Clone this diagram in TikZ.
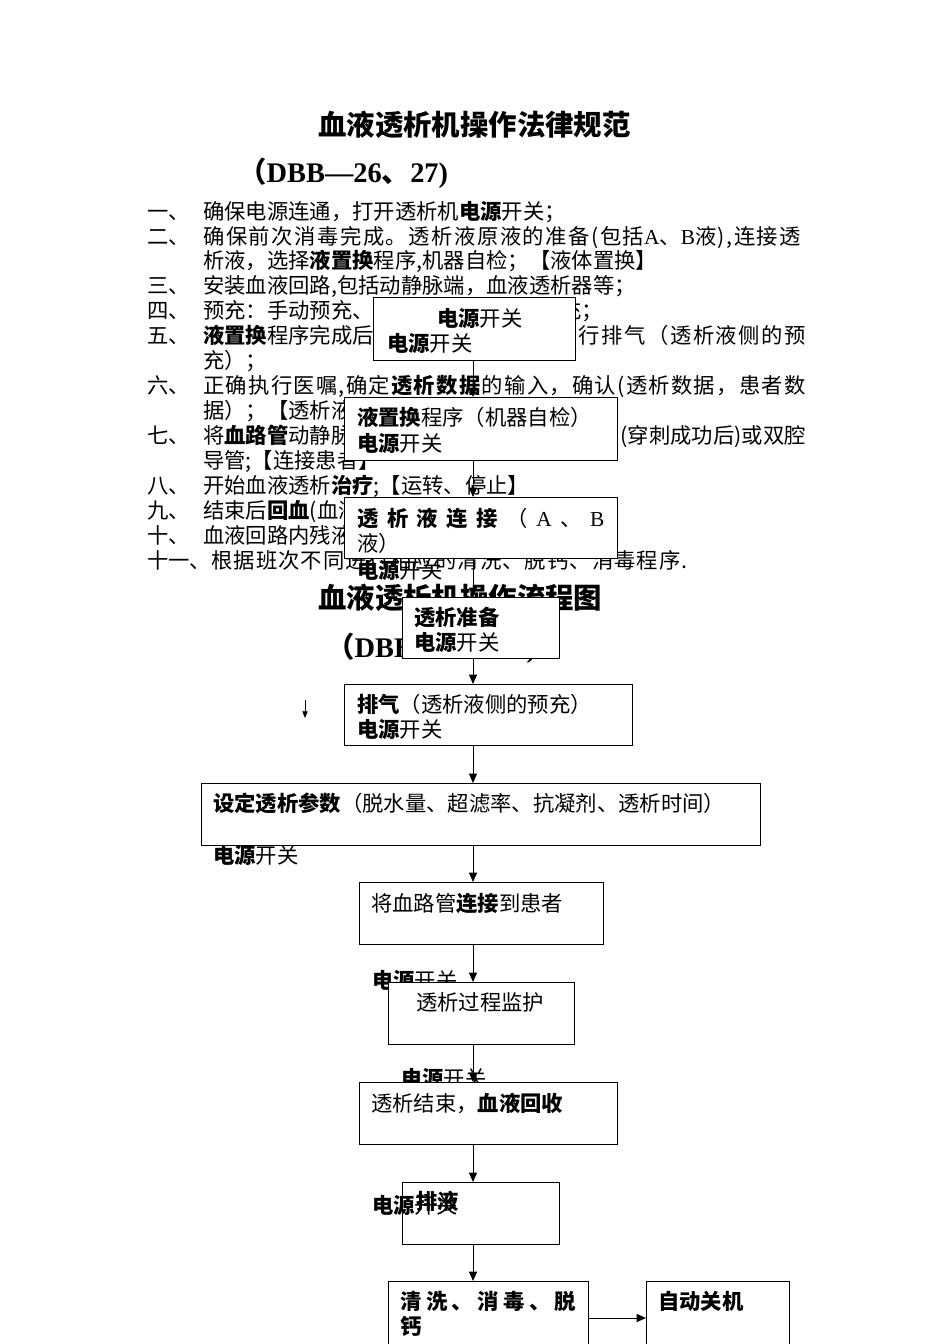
\documentclass[tikz,border=0pt]{standalone}
\usepackage{fontspec}
\setmainfont{Noto Sans CJK SC}
\newfontfamily\lat{Liberation Serif}
\usetikzlibrary{arrows.meta}

\newlength\pxu
\setlength\pxu{0.75pt}
\newcommand\num[1]{\makebox[56\pxu][l]{#1}}
\newcommand\dykg{\textbf{电源}开关}
% justified line by letter spacing
\newcommand\jline[2]{{\addfontfeature{LetterSpace=#1}#2}}

\tikzset{
  box/.style={draw, fill=white, line width=1pt, anchor=north west, inner sep=0pt},
  txt/.style={anchor=base west, inner sep=0pt, font=\fontsize{16}{19}\selectfont},
  txr/.style={txt, anchor=base east},
  ttl/.style={anchor=base west, inner sep=0pt, font=\fontsize{21.3}{25}\selectfont\bfseries},
  arr/.style={-{Triangle[length=7pt,width=6pt]}, line width=0.75pt},
}

\begin{document}
\begin{tikzpicture}[x=0.75pt,y=-0.75pt]
\useasboundingbox[fill=white] (0,0) rectangle (950,1344);

% titles
\node[ttl] (h1) at (318,136) {血液透析机操作法律规范};
\node[ttl] (h1b) at (238,183) {（{\lat DBB—26}、{\lat 27)}};
\node[ttl] (h2) at (318,608) {血液透析机操作流程图};
\node[ttl] (h2b) at (326,657) {（{\lat DBB—26}、{\lat 27)}};

% list
\node[txt] (l1) at (147,220) {\num{一、}确保电源连通，打开透析机\textbf{电源}开关；};
\node[txt] (l2) at (147,245) {\num{二、}\jline{7}{确保前次消毒完成。透析液原液的准备(包括{\lat A}、{\lat B}液),连接透}};
\node[txt] (l2b) at (203,269) {析液，选择\textbf{液置换}程序,机器自检；【液体置换】};
\node[txt] (l3) at (147,294) {\num{三、}安装血液回路,包括动静脉端，血液透析器等；};
\node[txt] (l4) at (147,319) {\num{四、}预充：手动预充、};
\node[txr] (l4r) at (603,319) {充；};
\node[txt] (l5) at (147,344) {\num{五、}\textbf{液置换}程序完成后};
\node[txr] (l5r) at (806,344) {\jline{7}{行排气（透析液侧的预}};
\node[txt] (l5b) at (203,368) {充）；};
\node[txt] (l6) at (147,393) {\num{六、}\jline{6}{正确执行医嘱,确定\textbf{透析数据}的输入，确认(透析数据，患者数}};
\node[txt] (l6b) at (203,418) {据）；【透析液};
\node[txt] (l7) at (147,443) {\num{七、}将\textbf{血路管}动静脉};
\node[txr] (l7r) at (806,443) {(穿刺成功后)或双腔};
\node[txt] (l7b) at (203,468) {导管;【连接患者】};
\node[txt] (l8) at (147,493) {\num{八、}开始血液透析\textbf{治疗};【运转、停止】};
\node[txt] (l9) at (147,518) {\num{九、}结束后\textbf{回血}(血液};
\node[txt] (l10) at (147,543) {\num{十、}血液回路内残液};
\node[txt] (l11) at (147,568) {十一、\jline{5}{根据班次不同进行相应的清洗、脱钙、消毒程序.}};

% texts hidden under boxes
\node[txt] (k8) at (372,988) {\dykg};
\node[txt] (k9) at (401,1086) {\dykg};

% boxes
\node[box, minimum width=202\pxu, minimum height=63\pxu] (b1) at (373,297) {};
\node[box, minimum width=273\pxu, minimum height=63\pxu] (b2) at (344,397) {};
\node[box, minimum width=273\pxu, minimum height=61\pxu] (b3) at (344,497) {};
\node[box, minimum width=157\pxu, minimum height=61\pxu] (b4) at (402,597) {};
\node[box, minimum width=288\pxu, minimum height=61\pxu] (b5) at (344,684) {};
\node[box, minimum width=559\pxu, minimum height=62\pxu] (b6) at (201,783) {};
\node[box, minimum width=244\pxu, minimum height=62\pxu] (b7) at (359,882) {};
\node[box, minimum width=186\pxu, minimum height=62\pxu] (b8) at (388,982) {};
\node[box, minimum width=258\pxu, minimum height=62\pxu] (b9) at (359,1082) {};
\node[box, minimum width=157\pxu, minimum height=62\pxu] (b10) at (402,1182) {};
\node[box, minimum width=200\pxu, minimum height=70\pxu] (b11) at (388,1281) {};
\node[box, minimum width=143\pxu, minimum height=70\pxu] (b12) at (646,1281) {};

% box texts
\node[txt] (t1) at (437,326) {\dykg};
\node[txt] (t1b) at (387,351) {\dykg};
\node[txt] (t2) at (357,425) {\textbf{液置换}程序（机器自检）};
\node[txt] (t2b) at (357,451) {\dykg};
\node[txt] (t3) at (357,526) {\hbox to 247\pxu{\textbf{透}\hfil\textbf{析}\hfil\textbf{液}\hfil\textbf{连}\hfil\textbf{接}\hfil（\hfil{\lat A}\hfil、\hfil{\lat B}}};
\node[txt] (t3b) at (357,551) {液）};
\node[txt] (t3c) at (357,578) {\dykg};
\node[txt] (t4) at (414,625) {\textbf{透析准备}};
\node[txt] (t4b) at (414,650) {\dykg};
\node[txt] (t5) at (357,712) {\textbf{排气}（透析液侧的预充）};
\node[txt] (t5b) at (357,737) {\dykg};
\node[txt] (t6) at (213,811) {\textbf{设定透析参数}（脱水量、超滤率、抗凝剂、透析时间）};
\node[txt] (t6b) at (213,863) {\dykg};
\node[txt] (t7) at (371,911) {将血路管\textbf{连接}到患者};
\node[txt] (t8) at (416,1010) {透析过程监护};
\node[txt] (t9) at (371,1111) {透析结束，\textbf{血液回收}};
\node[txt] (t10) at (416,1209) {\textbf{排液}};
\node[txt] (t10b) at (372,1213) {\dykg};
\node[txt] (t11) at (400,1309) {\hbox to 176\pxu{\bfseries 清\hfil 洗\hfil 、\hfil 消\hfil 毒\hfil 、\hfil 脱}};
\node[txt] (t11b) at (400,1334) {\textbf{钙}};
\node[txt] (t12) at (658,1309) {\textbf{自动关机}};

% connectors
\coordinate (spine) at (473,0);
\coordinate (row) at (0,1318);
\foreach \a/\b in {b1/b2,b2/b3,b3/b4,b4/b5,b5/b6,b6/b7,b7/b8,b8/b9,b9/b10,b10/b11}
  \draw[arr] (\a.south -| spine) -- (\b.north -| spine);
\draw[arr] (b11.east |- row) -- (b12.west |- row);
\coordinate (s1) at (305,700);
\coordinate (s2) at (305,718);
\draw[-{Triangle[length=5pt,width=4pt]}, line width=0.6pt] (s1) -- (s2);
\end{tikzpicture}
\end{document}
